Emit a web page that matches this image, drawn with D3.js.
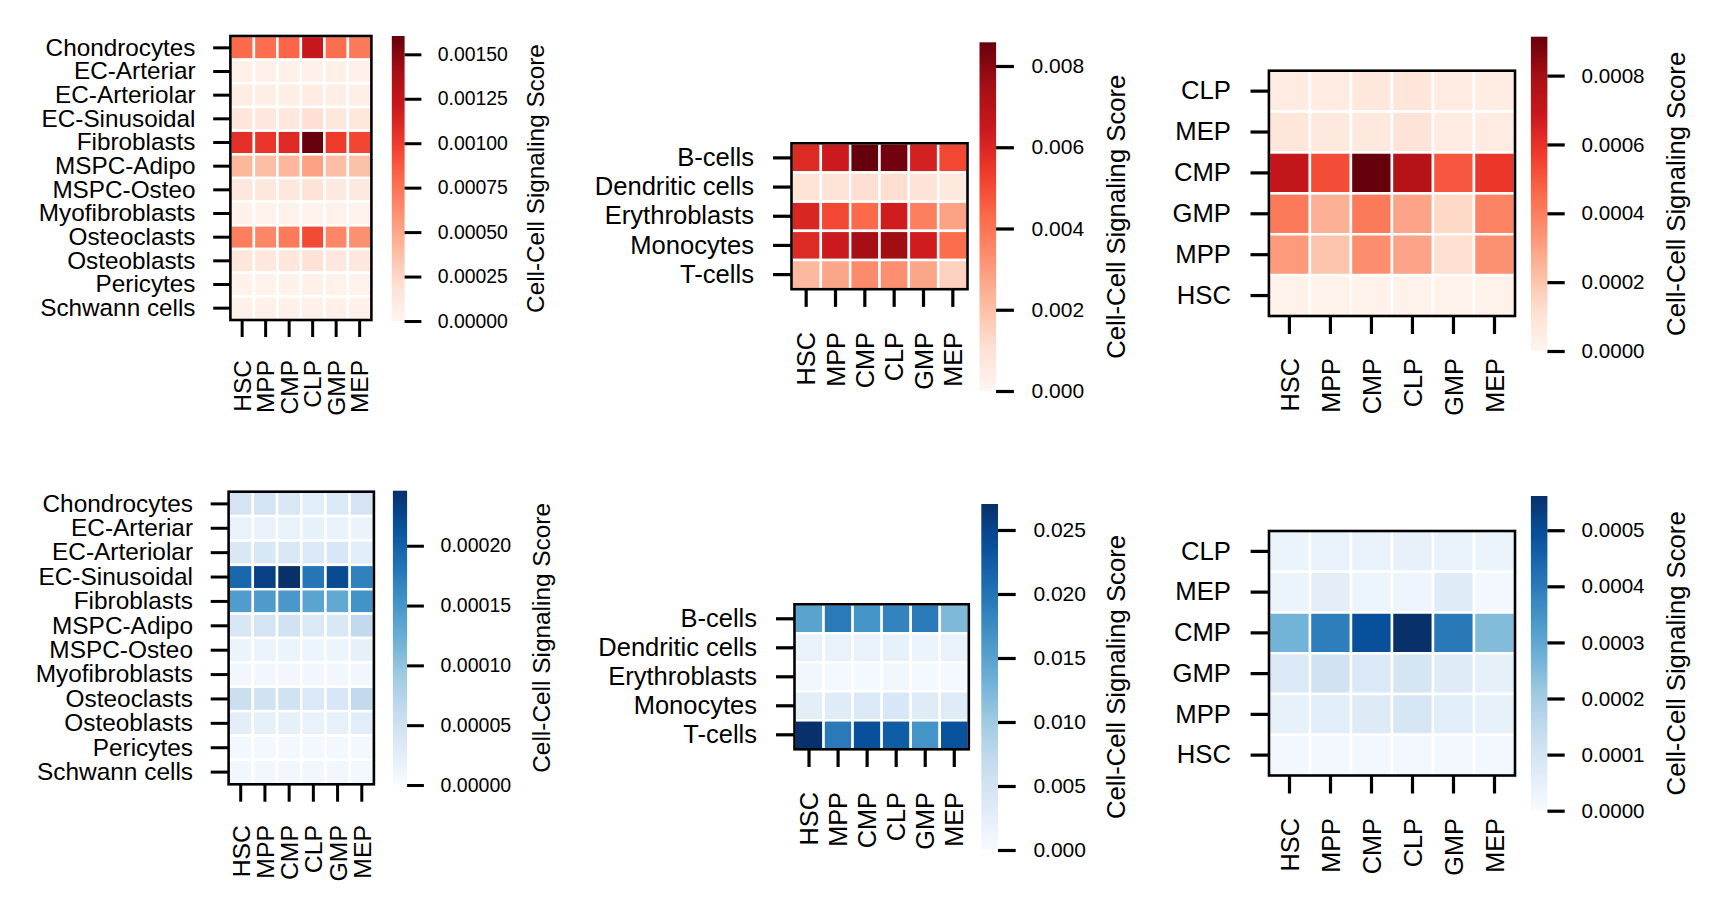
<!DOCTYPE html>
<html>
<head>
<meta charset="utf-8">
<script src="https://cdn.jsdelivr.net/npm/d3@7"></script>
<style>
  html, body { margin: 0; padding: 0; background: #fff; }
  svg { display: block; }
  text { font-family: "Liberation Sans", Arial, sans-serif; fill: #000; }
</style>
</head>
<body>
<svg id="chart" width="1727" height="911"></svg>
<script>
// ---------------- DATA ----------------
const cols = ["HSC", "MPP", "CMP", "CLP", "GMP", "MEP"];
const rowsNiche = ["Chondrocytes", "EC-Arteriar", "EC-Arteriolar", "EC-Sinusoidal", "Fibroblasts",
  "MSPC-Adipo", "MSPC-Osteo", "Myofibroblasts", "Osteoclasts", "Osteoblasts", "Pericytes", "Schwann cells"];
const rowsImmune = ["B-cells", "Dendritic cells", "Erythroblasts", "Monocytes", "T-cells"];
const rowsProg = ["CLP", "MEP", "CMP", "GMP", "MPP", "HSC"];

// Panel A (top-left, Reds): niche -> progenitors
const valuesA = [
  [0.00080, 0.00078, 0.00082, 0.00122, 0.00078, 0.00072],
  [0.00005, 0.00004, 0.00004, 0.00005, 0.00004, 0.00004],
  [0.00008, 0.00007, 0.00007, 0.00009, 0.00007, 0.00006],
  [0.00014, 0.00013, 0.00013, 0.00019, 0.00012, 0.00012],
  [0.00107, 0.00104, 0.00110, 0.00160, 0.00101, 0.00096],
  [0.00042, 0.00038, 0.00042, 0.00053, 0.00038, 0.00037],
  [0.00013, 0.00012, 0.00012, 0.00017, 0.00011, 0.00011],
  [0.00003, 0.00003, 0.00003, 0.00003, 0.00003, 0.00003],
  [0.00070, 0.00066, 0.00072, 0.00094, 0.00066, 0.00061],
  [0.00014, 0.00013, 0.00014, 0.00018, 0.00012, 0.00012],
  [0.00003, 0.00003, 0.00003, 0.00004, 0.00003, 0.00003],
  [0.00004, 0.00004, 0.00004, 0.00005, 0.00004, 0.00004]
];
// Panel B (top-middle, Reds): immune -> progenitors
const valuesB = [
  [0.0059, 0.0064, 0.00858, 0.0084, 0.0062, 0.0051],
  [0.0009, 0.0009, 0.0011, 0.0011, 0.0009, 0.0006],
  [0.0060, 0.0051, 0.0043, 0.0063, 0.0037, 0.0028],
  [0.0059, 0.0064, 0.0075, 0.0076, 0.0063, 0.0042],
  [0.0022, 0.0027, 0.0034, 0.0033, 0.0027, 0.0015]
];
// Panel C (top-right, Reds): progenitors -> progenitors
const valuesC = [
  [0.000055, 0.000055, 0.000073, 0.000082, 0.000055, 0.000046],
  [0.000082, 0.000064, 0.000064, 0.000091, 0.000055, 0.000055],
  [0.000712, 0.000530, 0.000913, 0.000749, 0.000502, 0.000584],
  [0.000411, 0.000256, 0.000411, 0.000292, 0.000137, 0.000383],
  [0.000320, 0.000201, 0.000356, 0.000292, 0.000110, 0.000347],
  [0.000018, 0.000018, 0.000018, 0.000018, 0.000018, 0.000018]
];
// Panel D (bottom-left, Blues)
const valuesD = [
  [0.000044, 0.000044, 0.000037, 0.000027, 0.000034, 0.000044],
  [0.000017, 0.000017, 0.000017, 0.000020, 0.000017, 0.000015],
  [0.000037, 0.000039, 0.000037, 0.000034, 0.000039, 0.000027],
  [0.000194, 0.000231, 0.000246, 0.000180, 0.000221, 0.000170],
  [0.000143, 0.000145, 0.000148, 0.000135, 0.000130, 0.000153],
  [0.000039, 0.000044, 0.000047, 0.000034, 0.000037, 0.000064],
  [0.000015, 0.000015, 0.000015, 0.000013, 0.000013, 0.000022],
  [0.000007, 0.000007, 0.000007, 0.000007, 0.000007, 0.000007],
  [0.000054, 0.000047, 0.000047, 0.000034, 0.000039, 0.000064],
  [0.000025, 0.000022, 0.000022, 0.000017, 0.000020, 0.000027],
  [0.000005, 0.000005, 0.000005, 0.000005, 0.000005, 0.000005],
  [0.000007, 0.000007, 0.000007, 0.000007, 0.000007, 0.000006]
];
// Panel E (bottom-middle, Blues)
const valuesE = [
  [0.0149, 0.0194, 0.0167, 0.0184, 0.0194, 0.0122],
  [0.0019, 0.0019, 0.0019, 0.0022, 0.0016, 0.0019],
  [0.0008, 0.0005, 0.0005, 0.0008, 0.0005, 0.0005],
  [0.0027, 0.0032, 0.0038, 0.0043, 0.0032, 0.0032],
  [0.0270, 0.0194, 0.0238, 0.0224, 0.0167, 0.0235]
];
// Panel F (bottom-right, Blues)
const valuesF = [
  [0.000034, 0.000039, 0.000039, 0.000042, 0.000039, 0.000031],
  [0.000031, 0.000056, 0.000028, 0.000025, 0.000067, 0.000014],
  [0.000269, 0.000393, 0.000494, 0.000561, 0.000404, 0.000247],
  [0.000079, 0.000107, 0.000079, 0.000095, 0.000067, 0.000050],
  [0.000045, 0.000062, 0.000070, 0.000090, 0.000062, 0.000045],
  [0.000011, 0.000011, 0.000011, 0.000011, 0.000011, 0.000011]
];

const vmaxA = 0.001603, vmaxB = 0.008583, vmaxC = 0.000913;
const vmaxD = 0.000246, vmaxE = 0.02703, vmaxF = 0.000561;

const ticksA = [0, 0.00025, 0.0005, 0.00075, 0.001, 0.00125, 0.0015];
const ticksB = [0, 0.002, 0.004, 0.006, 0.008];
const ticksC = [0, 0.0002, 0.0004, 0.0006, 0.0008];
const ticksD = [0, 0.00005, 0.0001, 0.00015, 0.0002];
const ticksE = [0, 0.005, 0.01, 0.015, 0.02, 0.025];
const ticksF = [0, 0.0001, 0.0002, 0.0003, 0.0004, 0.0005];

const cbarLabel = "Cell-Cell Signaling Score";

// matplotlib-style Reds / Blues (ColorBrewer 9, linear segments)
const redsStops = ["#fff5f0", "#fee0d2", "#fcbba1", "#fc9272", "#fb6a4a", "#ef3b2c", "#cb181d", "#a50f15", "#67000d"];
const bluesStops = ["#f7fbff", "#deebf7", "#c6dbef", "#9ecae1", "#6baed6", "#4292c6", "#2171b5", "#08519c", "#08306b"];

// ---------------- LAYOUT ----------------
const panels = [
  { rows: rowsNiche, values: valuesA, vmax: vmaxA, ticks: ticksA, dec: 5, cmap: redsStops,
    fx0: 230.4, fx1: 371.4, fy0: 36, fy1: 320, cx0: 391.8, cx1: 404.6, cy0: 36, cy1: 321,
    yTick: 17.2, xTick: 17, cbTick: 16.8, rowRight: 195.5, colEnd: 360, cbPad: 16.4, cbLabX: 535.7,
    rowFont: 24.3, colFont: 24.5, tickFont: 19.4, cbFont: 24.3, tw: 3 },
  { rows: rowsImmune, values: valuesB, vmax: vmaxB, ticks: ticksB, dec: 3, cmap: redsStops,
    fx0: 791.5, fx1: 967.5, fy0: 143.3, fy1: 289.2, cx0: 979.5, cx1: 996.1, cy0: 42.3, cy1: 391,
    yTick: 18.5, xTick: 17.7, cbTick: 17.8, rowRight: 754, colEnd: 332, cbPad: 17.7, cbLabX: 1115.6,
    rowFont: 25.6, colFont: 25.3, tickFont: 21, cbFont: 25.7, tw: 3.2 },
  { rows: rowsProg, values: valuesC, vmax: vmaxC, ticks: ticksC, dec: 4, cmap: redsStops,
    fx0: 1268.9, fx1: 1515.0, fy0: 70.7, fy1: 316, cx0: 1530.9, cx1: 1547.4, cy0: 36.7, cy1: 351,
    yTick: 18.4, xTick: 18, cbTick: 17.3, rowRight: 1231, colEnd: 358, cbPad: 16.9, cbLabX: 1676.2,
    rowFont: 25.7, colFont: 25.3, tickFont: 20.6, cbFont: 25.7, tw: 3.2 },
  { rows: rowsNiche, values: valuesD, vmax: vmaxD, ticks: ticksD, dec: 5, cmap: bluesStops,
    fx0: 228.6, fx1: 373.9, fy0: 491.7, fy1: 784.3, cx0: 392.9, cx1: 407.1, cy0: 490.7, cy1: 785,
    yTick: 17.9, xTick: 17.4, cbTick: 16.8, rowRight: 193, colEnd: 825, cbPad: 16.7, cbLabX: 541,
    rowFont: 24.4, colFont: 24.8, tickFont: 19.5, cbFont: 24.4, tw: 3 },
  { rows: rowsImmune, values: valuesE, vmax: vmaxE, ticks: ticksE, dec: 3, cmap: bluesStops,
    fx0: 794.5, fx1: 968.8, fy0: 604.3, fy1: 749.3, cx0: 981.3, cx1: 998.0, cy0: 504, cy1: 850,
    yTick: 18.5, xTick: 17.7, cbTick: 17.7, rowRight: 757, colEnd: 792, cbPad: 17.7, cbLabX: 1115.6,
    rowFont: 25.5, colFont: 25.3, tickFont: 21, cbFont: 25.7, tw: 3.2 },
  { rows: rowsProg, values: valuesF, vmax: vmaxF, ticks: ticksF, dec: 4, cmap: bluesStops,
    fx0: 1269, fx1: 1515.0, fy0: 531, fy1: 775.5, cx0: 1530.9, cx1: 1547.4, cy0: 496, cy1: 810.7,
    yTick: 18.4, xTick: 18, cbTick: 17.3, rowRight: 1231, colEnd: 818, cbPad: 16.9, cbLabX: 1676.2,
    rowFont: 25.7, colFont: 25.3, tickFont: 20.6, cbFont: 25.7, tw: 3.2 }
];

const svg = d3.select("#chart");
const defs = svg.append("defs");
const FONT = "'Liberation Sans', Arial, sans-serif";

panels.forEach((p, pi) => {
  const n = p.cmap.length;
  const color = d3.scaleLinear()
    .domain(d3.range(n).map(i => p.vmax * i / (n - 1)))
    .range(p.cmap)
    .interpolate(d3.interpolateRgb)
    .clamp(true);

  const x = d3.scaleBand().domain(cols).range([p.fx0, p.fx1]);
  const y = d3.scaleBand().domain(p.rows).range([p.fy0, p.fy1]);

  const g = svg.append("g");

  // cells
  const cells = [];
  p.rows.forEach((r, ri) => cols.forEach((c, ci) => cells.push({ r, c, v: p.values[ri][ci] })));
  g.selectAll("rect.cell").data(cells).join("rect")
    .attr("class", "cell")
    .attr("x", d => x(d.c))
    .attr("y", d => y(d.r))
    .attr("width", x.bandwidth())
    .attr("height", y.bandwidth())
    .attr("fill", d => color(d.v))
    .attr("stroke", "#fff")
    .attr("stroke-width", 2.5);

  // frame
  g.append("rect")
    .attr("x", p.fx0).attr("y", p.fy0)
    .attr("width", p.fx1 - p.fx0).attr("height", p.fy1 - p.fy0)
    .attr("fill", "none").attr("stroke", "#000").attr("stroke-width", 2.6);

  // y axis
  const yAxis = g.append("g")
    .attr("transform", `translate(${p.fx0},0)`)
    .call(d3.axisLeft(y).tickSize(p.yTick).tickPadding(p.fx0 - p.yTick - p.rowRight));
  yAxis.select(".domain").remove();
  yAxis.selectAll(".tick line").attr("stroke", "#000").attr("stroke-width", p.tw);
  yAxis.selectAll(".tick text")
    .attr("font-size", p.rowFont)
    .attr("font-family", FONT)
    .attr("fill", "#000");

  // x axis
  const xAxis = g.append("g")
    .attr("transform", `translate(0,${p.fy1})`)
    .call(d3.axisBottom(x).tickSize(p.xTick));
  xAxis.select(".domain").remove();
  xAxis.selectAll(".tick line").attr("stroke", "#000").attr("stroke-width", p.tw);
  xAxis.selectAll(".tick text")
    .attr("font-size", p.colFont)
    .attr("font-family", FONT)
    .attr("fill", "#000")
    .attr("x", 0).attr("y", 0)
    .attr("dy", "0.36em")
    .attr("text-anchor", "end")
    .attr("transform", `translate(0,${p.colEnd - p.fy1}) rotate(-90)`);

  // colorbar gradient
  const gid = "grad" + pi;
  const grad = defs.append("linearGradient").attr("id", gid)
    .attr("x1", 0).attr("y1", 1).attr("x2", 0).attr("y2", 0);
  d3.range(0, 1.0001, 1 / 64).forEach(t => {
    grad.append("stop").attr("offset", t).attr("stop-color", color(t * p.vmax));
  });
  g.append("rect")
    .attr("x", p.cx0).attr("y", p.cy0)
    .attr("width", p.cx1 - p.cx0).attr("height", p.cy1 - p.cy0)
    .attr("fill", `url(#${gid})`);

  const cb = d3.scaleLinear().domain([0, p.vmax]).range([p.cy1, p.cy0]);
  const cAxis = g.append("g")
    .attr("transform", `translate(${p.cx1},0)`)
    .call(d3.axisRight(cb).tickValues(p.ticks).tickFormat(d3.format(`.${p.dec}f`))
      .tickSize(p.cbTick).tickPadding(p.cbPad));
  cAxis.select(".domain").remove();
  cAxis.selectAll(".tick line").attr("stroke", "#000").attr("stroke-width", p.tw);
  cAxis.selectAll(".tick text")
    .attr("font-size", p.tickFont)
    .attr("font-family", FONT)
    .attr("fill", "#000");

  // colorbar label
  g.append("text")
    .attr("transform", `translate(${p.cbLabX},${(p.cy0 + p.cy1) / 2}) rotate(-90)`)
    .attr("text-anchor", "middle")
    .attr("dy", "0.35em")
    .attr("font-size", p.cbFont)
    .attr("font-family", FONT)
    .text(cbarLabel);
});
</script>
</body>
</html>
